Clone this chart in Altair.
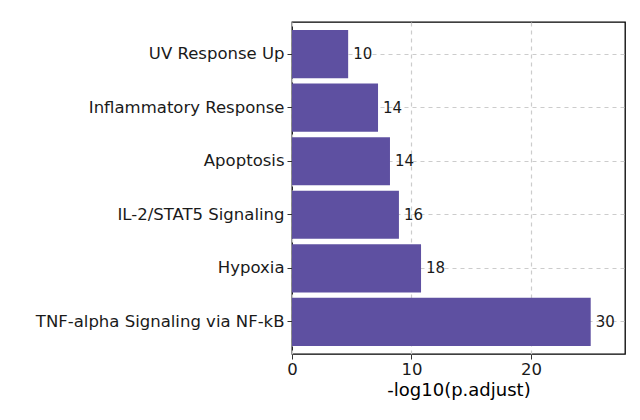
import altair as alt
import pandas as pd

terms = ["UV Response Up", "Inflammatory Response", "Apoptosis",
         "IL-2/STAT5 Signaling", "Hypoxia", "TNF-alpha Signaling via NF-kB"]
neglog_padj = [4.7, 7.2, 8.2, 8.95, 10.8, 25.0]
counts = [10, 14, 14, 16, 18, 30]

df = pd.DataFrame({"term": terms, "value": neglog_padj, "count": counts})

FONT = "DejaVu Sans"

y_enc = alt.Y(
    "term:N", sort=terms,
    scale=alt.Scale(paddingInner=0.1, paddingOuter=0.15),
    axis=alt.Axis(title=None, labelFontSize=16.5, labelFont=FONT, labelColor="#1a1a1a",
                  labelLimit=400,
                  tickColor="#333333", tickSize=5, labelPadding=3, domain=False,
                  grid=True, gridDash=[4, 4], gridColor="#cccccc", gridWidth=1.2,
                  bandPosition=0.5),
)
x_enc = alt.X(
    "value:Q",
    scale=alt.Scale(domain=[0, 27.87], nice=False, zero=True),
    axis=alt.Axis(values=[0, 10, 20], title="-log10(p.adjust)", titleFont=FONT,
                  titleFontSize=18, titleFontWeight="normal", titleColor="#000000",
                  labelFontSize=16.5, labelFont=FONT, labelColor="#1a1a1a",
                  labelFlush=False,
                  tickColor="#333333", tickSize=5, labelPadding=2, domain=False,
                  grid=True, gridDash=[4, 4], gridColor="#cccccc", gridWidth=1.2,
                  titlePadding=4),
)

bars = alt.Chart(df).mark_bar(color="#5E50A1").encode(x=x_enc, y=y_enc)
text = alt.Chart(df).mark_text(
    align="left", baseline="middle", dx=5, fontSize=15, font=FONT, color="#1a1a1a"
).encode(x="value:Q", y=alt.Y("term:N", sort=terms), text="count:Q")

chart = (bars + text).properties(
    width=333, height=332,
    padding={"left": 284, "top": 14, "right": 5, "bottom": 50},
    autosize=alt.AutoSizeParams(type="none"),
    background="white",
).configure_view(stroke="#000000", strokeWidth=1.3)

chart.save("out.html", embed_options={"renderer": "svg", "actions": False})
